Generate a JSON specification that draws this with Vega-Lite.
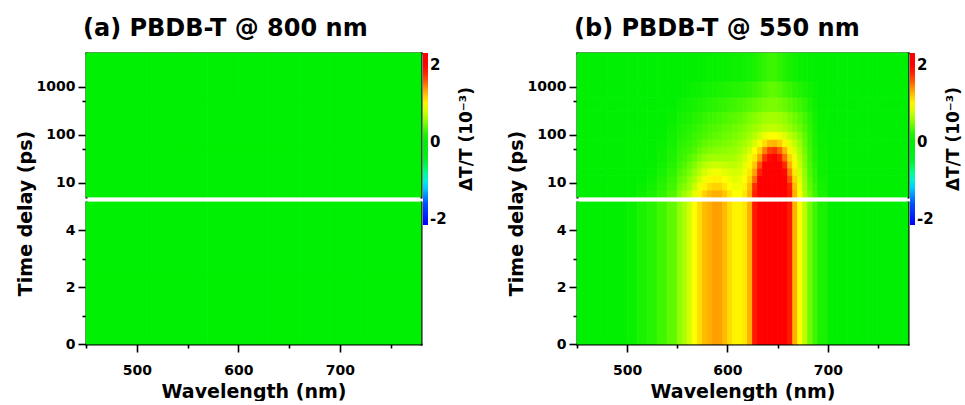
{
"$schema":"https://vega.github.io/schema/vega-lite/v6.json",
"background":"white",
"padding":{"left":15,"top":16,"right":0,"bottom":0},
"config":{
 "view":{"stroke":null},
 "font":"DejaVu Sans",
 "axis":{"grid":false,"domainColor":"black","domainWidth":2,"domainCap":"square","tickColor":"black","tickWidth":1.6,"labelFont":"DejaVu Sans","labelFontWeight":"bold","labelFontSize":14,"labelColor":"black","titleFont":"DejaVu Sans","titleFontWeight":"bold","titleFontSize":19,"titleColor":"black","zindex":1},
 "title":{"font":"DejaVu Sans","fontWeight":"bold","fontSize":24,"anchor":"start","frame":"group","color":"black","baseline":"alphabetic","offset":12,"dx":-3},
 "legend":{"labelFont":"DejaVu Sans","labelFontWeight":"bold","labelFontSize":15,"labelColor":"black","titleFont":"DejaVu Sans","titleFontWeight":"bold","titleFontSize":17,"titleColor":"black","gradientLength":172,"gradientThickness":5,"gradientStrokeWidth":0,"offset":1,"padding":0,"labelOffset":5}
},
"datasets":{
"aTop":[
{"w":450,"w2":480,"t":5,"t2":50,"v":0.03},{"w":480,"w2":510,"t":5,"t2":50,"v":0.04},{"w":510,"w2":540,"t":5,"t2":50,"v":0.03},{"w":540,"w2":570,"t":5,"t2":50,"v":0.04},{"w":570,"w2":600,"t":5,"t2":50,"v":0.05},{"w":600,"w2":630,"t":5,"t2":50,"v":0.04},{"w":630,"w2":660,"t":5,"t2":50,"v":0.05},{"w":660,"w2":690,"t":5,"t2":50,"v":0.04},{"w":690,"w2":720,"t":5,"t2":50,"v":0.03},{"w":720,"w2":750,"t":5,"t2":50,"v":0.03},{"w":750,"w2":780,"t":5,"t2":50,"v":0.03},
{"w":450,"w2":480,"t":50,"t2":500,"v":0.03},{"w":480,"w2":510,"t":50,"t2":500,"v":0.03},{"w":510,"w2":540,"t":50,"t2":500,"v":0.03},{"w":540,"w2":570,"t":50,"t2":500,"v":0.04},{"w":570,"w2":600,"t":50,"t2":500,"v":0.04},{"w":600,"w2":630,"t":50,"t2":500,"v":0.04},{"w":630,"w2":660,"t":50,"t2":500,"v":0.04},{"w":660,"w2":690,"t":50,"t2":500,"v":0.03},{"w":690,"w2":720,"t":50,"t2":500,"v":0.03},{"w":720,"w2":750,"t":50,"t2":500,"v":0.03},{"w":750,"w2":780,"t":50,"t2":500,"v":0.03},
{"w":450,"w2":480,"t":500,"t2":5000,"v":0.03},{"w":480,"w2":510,"t":500,"t2":5000,"v":0.03},{"w":510,"w2":540,"t":500,"t2":5000,"v":0.03},{"w":540,"w2":570,"t":500,"t2":5000,"v":0.03},{"w":570,"w2":600,"t":500,"t2":5000,"v":0.03},{"w":600,"w2":630,"t":500,"t2":5000,"v":0.03},{"w":630,"w2":660,"t":500,"t2":5000,"v":0.03},{"w":660,"w2":690,"t":500,"t2":5000,"v":0.03},{"w":690,"w2":720,"t":500,"t2":5000,"v":0.03},{"w":720,"w2":750,"t":500,"t2":5000,"v":0.03},{"w":750,"w2":780,"t":500,"t2":5000,"v":0.03}
],
"aBot":[
{"w":450,"w2":480,"t":0,"t2":2.5,"v":0.04},{"w":480,"w2":510,"t":0,"t2":2.5,"v":0.05},{"w":510,"w2":540,"t":0,"t2":2.5,"v":0.04},{"w":540,"w2":570,"t":0,"t2":2.5,"v":0.05},{"w":570,"w2":600,"t":0,"t2":2.5,"v":0.06},{"w":600,"w2":630,"t":0,"t2":2.5,"v":0.05},{"w":630,"w2":660,"t":0,"t2":2.5,"v":0.06},{"w":660,"w2":690,"t":0,"t2":2.5,"v":0.05},{"w":690,"w2":720,"t":0,"t2":2.5,"v":0.04},{"w":720,"w2":750,"t":0,"t2":2.5,"v":0.04},{"w":750,"w2":780,"t":0,"t2":2.5,"v":0.04},
{"w":450,"w2":480,"t":2.5,"t2":5,"v":0.04},{"w":480,"w2":510,"t":2.5,"t2":5,"v":0.04},{"w":510,"w2":540,"t":2.5,"t2":5,"v":0.04},{"w":540,"w2":570,"t":2.5,"t2":5,"v":0.05},{"w":570,"w2":600,"t":2.5,"t2":5,"v":0.05},{"w":600,"w2":630,"t":2.5,"t2":5,"v":0.05},{"w":630,"w2":660,"t":2.5,"t2":5,"v":0.05},{"w":660,"w2":690,"t":2.5,"t2":5,"v":0.04},{"w":690,"w2":720,"t":2.5,"t2":5,"v":0.04},{"w":720,"w2":750,"t":2.5,"t2":5,"v":0.04},{"w":750,"w2":780,"t":2.5,"t2":5,"v":0.04}
],
"bBot":[
{"w":450,"w2":460,"t":0,"t2":5,"v":0.05},{"w":460,"w2":470,"t":0,"t2":5,"v":0.05},{"w":470,"w2":480,"t":0,"t2":5,"v":0.06},{"w":480,"w2":490,"t":0,"t2":5,"v":0.08},{"w":490,"w2":500,"t":0,"t2":5,"v":0.1},{"w":500,"w2":510,"t":0,"t2":5,"v":0.13},{"w":510,"w2":520,"t":0,"t2":5,"v":0.18},{"w":520,"w2":530,"t":0,"t2":5,"v":0.22},{"w":530,"w2":540,"t":0,"t2":5,"v":0.3},{"w":540,"w2":550,"t":0,"t2":5,"v":0.4},
{"w":550,"w2":555,"t":0,"t2":5,"v":0.55},{"w":555,"w2":560,"t":0,"t2":5,"v":0.65},{"w":560,"w2":565,"t":0,"t2":5,"v":0.8},{"w":565,"w2":570,"t":0,"t2":5,"v":0.95},{"w":570,"w2":575,"t":0,"t2":5,"v":1.1},{"w":575,"w2":580,"t":0,"t2":5,"v":1.25},{"w":580,"w2":585,"t":0,"t2":5,"v":1.3},{"w":585,"w2":590,"t":0,"t2":5,"v":1.35},{"w":590,"w2":595,"t":0,"t2":5,"v":1.35},{"w":595,"w2":600,"t":0,"t2":5,"v":1.25},{"w":600,"w2":605,"t":0,"t2":5,"v":1.1},{"w":605,"w2":610,"t":0,"t2":5,"v":1.0},{"w":610,"w2":615,"t":0,"t2":5,"v":1.0},{"w":615,"w2":620,"t":0,"t2":5,"v":1.05},{"w":620,"w2":625,"t":0,"t2":5,"v":1.3},{"w":625,"w2":630,"t":0,"t2":5,"v":1.85},{"w":630,"w2":635,"t":0,"t2":5,"v":2.3},{"w":635,"w2":640,"t":0,"t2":5,"v":2.5},{"w":640,"w2":645,"t":0,"t2":5,"v":2.6},{"w":645,"w2":650,"t":0,"t2":5,"v":2.6},{"w":650,"w2":655,"t":0,"t2":5,"v":2.5},{"w":655,"w2":660,"t":0,"t2":5,"v":2.3},{"w":660,"w2":665,"t":0,"t2":5,"v":1.85},{"w":665,"w2":670,"t":0,"t2":5,"v":1.3},{"w":670,"w2":675,"t":0,"t2":5,"v":0.95},{"w":675,"w2":680,"t":0,"t2":5,"v":0.7},{"w":680,"w2":685,"t":0,"t2":5,"v":0.45},{"w":685,"w2":690,"t":0,"t2":5,"v":0.3},
{"w":690,"w2":700,"t":0,"t2":5,"v":0.18},{"w":700,"w2":710,"t":0,"t2":5,"v":0.1},{"w":710,"w2":720,"t":0,"t2":5,"v":0.08},{"w":720,"w2":730,"t":0,"t2":5,"v":0.06},{"w":730,"w2":740,"t":0,"t2":5,"v":0.05},{"w":740,"w2":750,"t":0,"t2":5,"v":0.05},{"w":750,"w2":760,"t":0,"t2":5,"v":0.05},{"w":760,"w2":770,"t":0,"t2":5,"v":0.05},{"w":770,"w2":780,"t":0,"t2":5,"v":0.05}
],
"bTop":[
{"w":450,"w2":460,"t":5,"t2":7,"v":0.05},{"w":460,"w2":470,"t":5,"t2":7,"v":0.05},{"w":470,"w2":480,"t":5,"t2":7,"v":0.05},{"w":480,"w2":490,"t":5,"t2":7,"v":0.07},{"w":490,"w2":500,"t":5,"t2":7,"v":0.08},{"w":500,"w2":510,"t":5,"t2":7,"v":0.1},{"w":510,"w2":520,"t":5,"t2":7,"v":0.14},{"w":520,"w2":530,"t":5,"t2":7,"v":0.18},{"w":530,"w2":540,"t":5,"t2":7,"v":0.25},{"w":540,"w2":550,"t":5,"t2":7,"v":0.35},
{"w":550,"w2":555,"t":5,"t2":7,"v":0.5},{"w":555,"w2":560,"t":5,"t2":7,"v":0.6},{"w":560,"w2":565,"t":5,"t2":7,"v":0.7},{"w":565,"w2":570,"t":5,"t2":7,"v":0.85},{"w":570,"w2":575,"t":5,"t2":7,"v":1.0},{"w":575,"w2":580,"t":5,"t2":7,"v":1.15},{"w":580,"w2":585,"t":5,"t2":7,"v":1.25},{"w":585,"w2":590,"t":5,"t2":7,"v":1.3},{"w":590,"w2":595,"t":5,"t2":7,"v":1.3},{"w":595,"w2":600,"t":5,"t2":7,"v":1.2},{"w":600,"w2":605,"t":5,"t2":7,"v":1.05},{"w":605,"w2":610,"t":5,"t2":7,"v":0.95},{"w":610,"w2":615,"t":5,"t2":7,"v":0.95},{"w":615,"w2":620,"t":5,"t2":7,"v":1.05},{"w":620,"w2":625,"t":5,"t2":7,"v":1.3},{"w":625,"w2":630,"t":5,"t2":7,"v":1.8},{"w":630,"w2":635,"t":5,"t2":7,"v":2.3},{"w":635,"w2":640,"t":5,"t2":7,"v":2.5},{"w":640,"w2":645,"t":5,"t2":7,"v":2.6},{"w":645,"w2":650,"t":5,"t2":7,"v":2.6},{"w":650,"w2":655,"t":5,"t2":7,"v":2.5},{"w":655,"w2":660,"t":5,"t2":7,"v":2.3},{"w":660,"w2":665,"t":5,"t2":7,"v":1.85},{"w":665,"w2":670,"t":5,"t2":7,"v":1.3},{"w":670,"w2":675,"t":5,"t2":7,"v":0.95},{"w":675,"w2":680,"t":5,"t2":7,"v":0.65},{"w":680,"w2":685,"t":5,"t2":7,"v":0.45},{"w":685,"w2":690,"t":5,"t2":7,"v":0.3},
{"w":690,"w2":700,"t":5,"t2":7,"v":0.18},{"w":700,"w2":710,"t":5,"t2":7,"v":0.1},{"w":710,"w2":720,"t":5,"t2":7,"v":0.07},{"w":720,"w2":730,"t":5,"t2":7,"v":0.06},{"w":730,"w2":740,"t":5,"t2":7,"v":0.05},{"w":740,"w2":750,"t":5,"t2":7,"v":0.05},{"w":750,"w2":760,"t":5,"t2":7,"v":0.05},{"w":760,"w2":770,"t":5,"t2":7,"v":0.05},{"w":770,"w2":780,"t":5,"t2":7,"v":0.05},

{"w":450,"w2":460,"t":7,"t2":10,"v":0.05},{"w":460,"w2":470,"t":7,"t2":10,"v":0.05},{"w":470,"w2":480,"t":7,"t2":10,"v":0.05},{"w":480,"w2":490,"t":7,"t2":10,"v":0.06},{"w":490,"w2":500,"t":7,"t2":10,"v":0.07},{"w":500,"w2":510,"t":7,"t2":10,"v":0.09},{"w":510,"w2":520,"t":7,"t2":10,"v":0.12},{"w":520,"w2":530,"t":7,"t2":10,"v":0.16},{"w":530,"w2":540,"t":7,"t2":10,"v":0.22},{"w":540,"w2":550,"t":7,"t2":10,"v":0.3},
{"w":550,"w2":555,"t":7,"t2":10,"v":0.45},{"w":555,"w2":560,"t":7,"t2":10,"v":0.5},{"w":560,"w2":565,"t":7,"t2":10,"v":0.6},{"w":565,"w2":570,"t":7,"t2":10,"v":0.75},{"w":570,"w2":575,"t":7,"t2":10,"v":0.9},{"w":575,"w2":580,"t":7,"t2":10,"v":1.0},{"w":580,"w2":585,"t":7,"t2":10,"v":1.1},{"w":585,"w2":590,"t":7,"t2":10,"v":1.15},{"w":590,"w2":595,"t":7,"t2":10,"v":1.15},{"w":595,"w2":600,"t":7,"t2":10,"v":1.05},{"w":600,"w2":605,"t":7,"t2":10,"v":0.95},{"w":605,"w2":610,"t":7,"t2":10,"v":0.9},{"w":610,"w2":615,"t":7,"t2":10,"v":0.9},{"w":615,"w2":620,"t":7,"t2":10,"v":1.0},{"w":620,"w2":625,"t":7,"t2":10,"v":1.25},{"w":625,"w2":630,"t":7,"t2":10,"v":1.7},{"w":630,"w2":635,"t":7,"t2":10,"v":2.2},{"w":635,"w2":640,"t":7,"t2":10,"v":2.45},{"w":640,"w2":645,"t":7,"t2":10,"v":2.55},{"w":645,"w2":650,"t":7,"t2":10,"v":2.55},{"w":650,"w2":655,"t":7,"t2":10,"v":2.45},{"w":655,"w2":660,"t":7,"t2":10,"v":2.25},{"w":660,"w2":665,"t":7,"t2":10,"v":1.8},{"w":665,"w2":670,"t":7,"t2":10,"v":1.25},{"w":670,"w2":675,"t":7,"t2":10,"v":0.9},{"w":675,"w2":680,"t":7,"t2":10,"v":0.6},{"w":680,"w2":685,"t":7,"t2":10,"v":0.4},{"w":685,"w2":690,"t":7,"t2":10,"v":0.28},
{"w":690,"w2":700,"t":7,"t2":10,"v":0.16},{"w":700,"w2":710,"t":7,"t2":10,"v":0.1},{"w":710,"w2":720,"t":7,"t2":10,"v":0.07},{"w":720,"w2":730,"t":7,"t2":10,"v":0.05},{"w":730,"w2":740,"t":7,"t2":10,"v":0.05},{"w":740,"w2":750,"t":7,"t2":10,"v":0.05},{"w":750,"w2":760,"t":7,"t2":10,"v":0.05},{"w":760,"w2":770,"t":7,"t2":10,"v":0.05},{"w":770,"w2":780,"t":7,"t2":10,"v":0.05},

{"w":450,"w2":460,"t":10,"t2":14,"v":0.05},{"w":460,"w2":470,"t":10,"t2":14,"v":0.05},{"w":470,"w2":480,"t":10,"t2":14,"v":0.05},{"w":480,"w2":490,"t":10,"t2":14,"v":0.06},{"w":490,"w2":500,"t":10,"t2":14,"v":0.07},{"w":500,"w2":510,"t":10,"t2":14,"v":0.08},{"w":510,"w2":520,"t":10,"t2":14,"v":0.1},{"w":520,"w2":530,"t":10,"t2":14,"v":0.14},{"w":530,"w2":540,"t":10,"t2":14,"v":0.2},{"w":540,"w2":550,"t":10,"t2":14,"v":0.27},
{"w":550,"w2":555,"t":10,"t2":14,"v":0.4},{"w":555,"w2":560,"t":10,"t2":14,"v":0.45},{"w":560,"w2":565,"t":10,"t2":14,"v":0.55},{"w":565,"w2":570,"t":10,"t2":14,"v":0.65},{"w":570,"w2":575,"t":10,"t2":14,"v":0.8},{"w":575,"w2":580,"t":10,"t2":14,"v":0.9},{"w":580,"w2":585,"t":10,"t2":14,"v":0.98},{"w":585,"w2":590,"t":10,"t2":14,"v":1.0},{"w":590,"w2":595,"t":10,"t2":14,"v":1.0},{"w":595,"w2":600,"t":10,"t2":14,"v":0.95},{"w":600,"w2":605,"t":10,"t2":14,"v":0.9},{"w":605,"w2":610,"t":10,"t2":14,"v":0.85},{"w":610,"w2":615,"t":10,"t2":14,"v":0.88},{"w":615,"w2":620,"t":10,"t2":14,"v":0.95},{"w":620,"w2":625,"t":10,"t2":14,"v":1.15},{"w":625,"w2":630,"t":10,"t2":14,"v":1.5},{"w":630,"w2":635,"t":10,"t2":14,"v":2.0},{"w":635,"w2":640,"t":10,"t2":14,"v":2.35},{"w":640,"w2":645,"t":10,"t2":14,"v":2.5},{"w":645,"w2":650,"t":10,"t2":14,"v":2.5},{"w":650,"w2":655,"t":10,"t2":14,"v":2.4},{"w":655,"w2":660,"t":10,"t2":14,"v":2.1},{"w":660,"w2":665,"t":10,"t2":14,"v":1.6},{"w":665,"w2":670,"t":10,"t2":14,"v":1.15},{"w":670,"w2":675,"t":10,"t2":14,"v":0.85},{"w":675,"w2":680,"t":10,"t2":14,"v":0.58},{"w":680,"w2":685,"t":10,"t2":14,"v":0.38},{"w":685,"w2":690,"t":10,"t2":14,"v":0.25},
{"w":690,"w2":700,"t":10,"t2":14,"v":0.15},{"w":700,"w2":710,"t":10,"t2":14,"v":0.09},{"w":710,"w2":720,"t":10,"t2":14,"v":0.07},{"w":720,"w2":730,"t":10,"t2":14,"v":0.05},{"w":730,"w2":740,"t":10,"t2":14,"v":0.05},{"w":740,"w2":750,"t":10,"t2":14,"v":0.05},{"w":750,"w2":760,"t":10,"t2":14,"v":0.05},{"w":760,"w2":770,"t":10,"t2":14,"v":0.05},{"w":770,"w2":780,"t":10,"t2":14,"v":0.05},

{"w":450,"w2":460,"t":14,"t2":20,"v":0.04},{"w":460,"w2":470,"t":14,"t2":20,"v":0.04},{"w":470,"w2":480,"t":14,"t2":20,"v":0.05},{"w":480,"w2":490,"t":14,"t2":20,"v":0.05},{"w":490,"w2":500,"t":14,"t2":20,"v":0.06},{"w":500,"w2":510,"t":14,"t2":20,"v":0.07},{"w":510,"w2":520,"t":14,"t2":20,"v":0.09},{"w":520,"w2":530,"t":14,"t2":20,"v":0.12},{"w":530,"w2":540,"t":14,"t2":20,"v":0.17},{"w":540,"w2":550,"t":14,"t2":20,"v":0.24},
{"w":550,"w2":555,"t":14,"t2":20,"v":0.35},{"w":555,"w2":560,"t":14,"t2":20,"v":0.4},{"w":560,"w2":565,"t":14,"t2":20,"v":0.48},{"w":565,"w2":570,"t":14,"t2":20,"v":0.58},{"w":570,"w2":575,"t":14,"t2":20,"v":0.7},{"w":575,"w2":580,"t":14,"t2":20,"v":0.8},{"w":580,"w2":585,"t":14,"t2":20,"v":0.88},{"w":585,"w2":590,"t":14,"t2":20,"v":0.9},{"w":590,"w2":595,"t":14,"t2":20,"v":0.9},{"w":595,"w2":600,"t":14,"t2":20,"v":0.85},{"w":600,"w2":605,"t":14,"t2":20,"v":0.82},{"w":605,"w2":610,"t":14,"t2":20,"v":0.8},{"w":610,"w2":615,"t":14,"t2":20,"v":0.82},{"w":615,"w2":620,"t":14,"t2":20,"v":0.9},{"w":620,"w2":625,"t":14,"t2":20,"v":1.05},{"w":625,"w2":630,"t":14,"t2":20,"v":1.35},{"w":630,"w2":635,"t":14,"t2":20,"v":1.8},{"w":635,"w2":640,"t":14,"t2":20,"v":2.2},{"w":640,"w2":645,"t":14,"t2":20,"v":2.4},{"w":645,"w2":650,"t":14,"t2":20,"v":2.4},{"w":650,"w2":655,"t":14,"t2":20,"v":2.3},{"w":655,"w2":660,"t":14,"t2":20,"v":1.95},{"w":660,"w2":665,"t":14,"t2":20,"v":1.45},{"w":665,"w2":670,"t":14,"t2":20,"v":1.05},{"w":670,"w2":675,"t":14,"t2":20,"v":0.8},{"w":675,"w2":680,"t":14,"t2":20,"v":0.55},{"w":680,"w2":685,"t":14,"t2":20,"v":0.35},{"w":685,"w2":690,"t":14,"t2":20,"v":0.24},
{"w":690,"w2":700,"t":14,"t2":20,"v":0.14},{"w":700,"w2":710,"t":14,"t2":20,"v":0.09},{"w":710,"w2":720,"t":14,"t2":20,"v":0.06},{"w":720,"w2":730,"t":14,"t2":20,"v":0.05},{"w":730,"w2":740,"t":14,"t2":20,"v":0.05},{"w":740,"w2":750,"t":14,"t2":20,"v":0.05},{"w":750,"w2":760,"t":14,"t2":20,"v":0.05},{"w":760,"w2":770,"t":14,"t2":20,"v":0.05},{"w":770,"w2":780,"t":14,"t2":20,"v":0.05},

{"w":450,"w2":460,"t":20,"t2":28,"v":0.04},{"w":460,"w2":470,"t":20,"t2":28,"v":0.04},{"w":470,"w2":480,"t":20,"t2":28,"v":0.05},{"w":480,"w2":490,"t":20,"t2":28,"v":0.05},{"w":490,"w2":500,"t":20,"t2":28,"v":0.06},{"w":500,"w2":510,"t":20,"t2":28,"v":0.07},{"w":510,"w2":520,"t":20,"t2":28,"v":0.08},{"w":520,"w2":530,"t":20,"t2":28,"v":0.11},{"w":530,"w2":540,"t":20,"t2":28,"v":0.15},{"w":540,"w2":550,"t":20,"t2":28,"v":0.21},
{"w":550,"w2":555,"t":20,"t2":28,"v":0.3},{"w":555,"w2":560,"t":20,"t2":28,"v":0.35},{"w":560,"w2":565,"t":20,"t2":28,"v":0.42},{"w":565,"w2":570,"t":20,"t2":28,"v":0.5},{"w":570,"w2":575,"t":20,"t2":28,"v":0.6},{"w":575,"w2":580,"t":20,"t2":28,"v":0.68},{"w":580,"w2":585,"t":20,"t2":28,"v":0.74},{"w":585,"w2":590,"t":20,"t2":28,"v":0.76},{"w":590,"w2":595,"t":20,"t2":28,"v":0.76},{"w":595,"w2":600,"t":20,"t2":28,"v":0.74},{"w":600,"w2":605,"t":20,"t2":28,"v":0.72},{"w":605,"w2":610,"t":20,"t2":28,"v":0.72},{"w":610,"w2":615,"t":20,"t2":28,"v":0.76},{"w":615,"w2":620,"t":20,"t2":28,"v":0.85},{"w":620,"w2":625,"t":20,"t2":28,"v":0.98},{"w":625,"w2":630,"t":20,"t2":28,"v":1.2},{"w":630,"w2":635,"t":20,"t2":28,"v":1.6},{"w":635,"w2":640,"t":20,"t2":28,"v":2.0},{"w":640,"w2":645,"t":20,"t2":28,"v":2.2},{"w":645,"w2":650,"t":20,"t2":28,"v":2.25},{"w":650,"w2":655,"t":20,"t2":28,"v":2.1},{"w":655,"w2":660,"t":20,"t2":28,"v":1.75},{"w":660,"w2":665,"t":20,"t2":28,"v":1.3},{"w":665,"w2":670,"t":20,"t2":28,"v":0.98},{"w":670,"w2":675,"t":20,"t2":28,"v":0.75},{"w":675,"w2":680,"t":20,"t2":28,"v":0.52},{"w":680,"w2":685,"t":20,"t2":28,"v":0.33},{"w":685,"w2":690,"t":20,"t2":28,"v":0.22},
{"w":690,"w2":700,"t":20,"t2":28,"v":0.14},{"w":700,"w2":710,"t":20,"t2":28,"v":0.09},{"w":710,"w2":720,"t":20,"t2":28,"v":0.06},{"w":720,"w2":730,"t":20,"t2":28,"v":0.05},{"w":730,"w2":740,"t":20,"t2":28,"v":0.05},{"w":740,"w2":750,"t":20,"t2":28,"v":0.05},{"w":750,"w2":760,"t":20,"t2":28,"v":0.05},{"w":760,"w2":770,"t":20,"t2":28,"v":0.05},{"w":770,"w2":780,"t":20,"t2":28,"v":0.05},

{"w":450,"w2":460,"t":28,"t2":40,"v":0.04},{"w":460,"w2":470,"t":28,"t2":40,"v":0.04},{"w":470,"w2":480,"t":28,"t2":40,"v":0.04},{"w":480,"w2":490,"t":28,"t2":40,"v":0.05},{"w":490,"w2":500,"t":28,"t2":40,"v":0.05},{"w":500,"w2":510,"t":28,"t2":40,"v":0.06},{"w":510,"w2":520,"t":28,"t2":40,"v":0.08},{"w":520,"w2":530,"t":28,"t2":40,"v":0.1},{"w":530,"w2":540,"t":28,"t2":40,"v":0.14},{"w":540,"w2":550,"t":28,"t2":40,"v":0.19},
{"w":550,"w2":555,"t":28,"t2":40,"v":0.27},{"w":555,"w2":560,"t":28,"t2":40,"v":0.3},{"w":560,"w2":565,"t":28,"t2":40,"v":0.36},{"w":565,"w2":570,"t":28,"t2":40,"v":0.42},{"w":570,"w2":575,"t":28,"t2":40,"v":0.5},{"w":575,"w2":580,"t":28,"t2":40,"v":0.56},{"w":580,"w2":585,"t":28,"t2":40,"v":0.6},{"w":585,"w2":590,"t":28,"t2":40,"v":0.62},{"w":590,"w2":595,"t":28,"t2":40,"v":0.62},{"w":595,"w2":600,"t":28,"t2":40,"v":0.62},{"w":600,"w2":605,"t":28,"t2":40,"v":0.62},{"w":605,"w2":610,"t":28,"t2":40,"v":0.64},{"w":610,"w2":615,"t":28,"t2":40,"v":0.7},{"w":615,"w2":620,"t":28,"t2":40,"v":0.78},{"w":620,"w2":625,"t":28,"t2":40,"v":0.9},{"w":625,"w2":630,"t":28,"t2":40,"v":1.05},{"w":630,"w2":635,"t":28,"t2":40,"v":1.35},{"w":635,"w2":640,"t":28,"t2":40,"v":1.7},{"w":640,"w2":645,"t":28,"t2":40,"v":1.95},{"w":645,"w2":650,"t":28,"t2":40,"v":2.0},{"w":650,"w2":655,"t":28,"t2":40,"v":1.85},{"w":655,"w2":660,"t":28,"t2":40,"v":1.5},{"w":660,"w2":665,"t":28,"t2":40,"v":1.15},{"w":665,"w2":670,"t":28,"t2":40,"v":0.9},{"w":670,"w2":675,"t":28,"t2":40,"v":0.7},{"w":675,"w2":680,"t":28,"t2":40,"v":0.5},{"w":680,"w2":685,"t":28,"t2":40,"v":0.32},{"w":685,"w2":690,"t":28,"t2":40,"v":0.2},
{"w":690,"w2":700,"t":28,"t2":40,"v":0.13},{"w":700,"w2":710,"t":28,"t2":40,"v":0.08},{"w":710,"w2":720,"t":28,"t2":40,"v":0.06},{"w":720,"w2":730,"t":28,"t2":40,"v":0.05},{"w":730,"w2":740,"t":28,"t2":40,"v":0.05},{"w":740,"w2":750,"t":28,"t2":40,"v":0.05},{"w":750,"w2":760,"t":28,"t2":40,"v":0.05},{"w":760,"w2":770,"t":28,"t2":40,"v":0.05},{"w":770,"w2":780,"t":28,"t2":40,"v":0.05},

{"w":450,"w2":460,"t":40,"t2":56,"v":0.04},{"w":460,"w2":470,"t":40,"t2":56,"v":0.04},{"w":470,"w2":480,"t":40,"t2":56,"v":0.04},{"w":480,"w2":490,"t":40,"t2":56,"v":0.05},{"w":490,"w2":500,"t":40,"t2":56,"v":0.05},{"w":500,"w2":510,"t":40,"t2":56,"v":0.06},{"w":510,"w2":520,"t":40,"t2":56,"v":0.07},{"w":520,"w2":530,"t":40,"t2":56,"v":0.09},{"w":530,"w2":540,"t":40,"t2":56,"v":0.13},{"w":540,"w2":550,"t":40,"t2":56,"v":0.18},
{"w":550,"w2":555,"t":40,"t2":56,"v":0.25},{"w":555,"w2":560,"t":40,"t2":56,"v":0.27},{"w":560,"w2":565,"t":40,"t2":56,"v":0.3},{"w":565,"w2":570,"t":40,"t2":56,"v":0.35},{"w":570,"w2":575,"t":40,"t2":56,"v":0.42},{"w":575,"w2":580,"t":40,"t2":56,"v":0.47},{"w":580,"w2":585,"t":40,"t2":56,"v":0.5},{"w":585,"w2":590,"t":40,"t2":56,"v":0.52},{"w":590,"w2":595,"t":40,"t2":56,"v":0.53},{"w":595,"w2":600,"t":40,"t2":56,"v":0.54},{"w":600,"w2":605,"t":40,"t2":56,"v":0.56},{"w":605,"w2":610,"t":40,"t2":56,"v":0.58},{"w":610,"w2":615,"t":40,"t2":56,"v":0.63},{"w":615,"w2":620,"t":40,"t2":56,"v":0.7},{"w":620,"w2":625,"t":40,"t2":56,"v":0.8},{"w":625,"w2":630,"t":40,"t2":56,"v":0.95},{"w":630,"w2":635,"t":40,"t2":56,"v":1.15},{"w":635,"w2":640,"t":40,"t2":56,"v":1.45},{"w":640,"w2":645,"t":40,"t2":56,"v":1.65},{"w":645,"w2":650,"t":40,"t2":56,"v":1.7},{"w":650,"w2":655,"t":40,"t2":56,"v":1.55},{"w":655,"w2":660,"t":40,"t2":56,"v":1.3},{"w":660,"w2":665,"t":40,"t2":56,"v":1.0},{"w":665,"w2":670,"t":40,"t2":56,"v":0.82},{"w":670,"w2":675,"t":40,"t2":56,"v":0.65},{"w":675,"w2":680,"t":40,"t2":56,"v":0.46},{"w":680,"w2":685,"t":40,"t2":56,"v":0.3},{"w":685,"w2":690,"t":40,"t2":56,"v":0.2},
{"w":690,"w2":700,"t":40,"t2":56,"v":0.13},{"w":700,"w2":710,"t":40,"t2":56,"v":0.08},{"w":710,"w2":720,"t":40,"t2":56,"v":0.06},{"w":720,"w2":730,"t":40,"t2":56,"v":0.05},{"w":730,"w2":740,"t":40,"t2":56,"v":0.05},{"w":740,"w2":750,"t":40,"t2":56,"v":0.05},{"w":750,"w2":760,"t":40,"t2":56,"v":0.05},{"w":760,"w2":770,"t":40,"t2":56,"v":0.05},{"w":770,"w2":780,"t":40,"t2":56,"v":0.05},

{"w":450,"w2":460,"t":56,"t2":80,"v":0.04},{"w":460,"w2":470,"t":56,"t2":80,"v":0.04},{"w":470,"w2":480,"t":56,"t2":80,"v":0.04},{"w":480,"w2":490,"t":56,"t2":80,"v":0.04},{"w":490,"w2":500,"t":56,"t2":80,"v":0.05},{"w":500,"w2":510,"t":56,"t2":80,"v":0.06},{"w":510,"w2":520,"t":56,"t2":80,"v":0.07},{"w":520,"w2":530,"t":56,"t2":80,"v":0.09},{"w":530,"w2":540,"t":56,"t2":80,"v":0.12},{"w":540,"w2":550,"t":56,"t2":80,"v":0.16},
{"w":550,"w2":555,"t":56,"t2":80,"v":0.22},{"w":555,"w2":560,"t":56,"t2":80,"v":0.24},{"w":560,"w2":565,"t":56,"t2":80,"v":0.27},{"w":565,"w2":570,"t":56,"t2":80,"v":0.3},{"w":570,"w2":575,"t":56,"t2":80,"v":0.35},{"w":575,"w2":580,"t":56,"t2":80,"v":0.4},{"w":580,"w2":585,"t":56,"t2":80,"v":0.43},{"w":585,"w2":590,"t":56,"t2":80,"v":0.45},{"w":590,"w2":595,"t":56,"t2":80,"v":0.46},{"w":595,"w2":600,"t":56,"t2":80,"v":0.48},{"w":600,"w2":605,"t":56,"t2":80,"v":0.5},{"w":605,"w2":610,"t":56,"t2":80,"v":0.53},{"w":610,"w2":615,"t":56,"t2":80,"v":0.57},{"w":615,"w2":620,"t":56,"t2":80,"v":0.62},{"w":620,"w2":625,"t":56,"t2":80,"v":0.7},{"w":625,"w2":630,"t":56,"t2":80,"v":0.8},{"w":630,"w2":635,"t":56,"t2":80,"v":0.93},{"w":635,"w2":640,"t":56,"t2":80,"v":1.1},{"w":640,"w2":645,"t":56,"t2":80,"v":1.25},{"w":645,"w2":650,"t":56,"t2":80,"v":1.28},{"w":650,"w2":655,"t":56,"t2":80,"v":1.18},{"w":655,"w2":660,"t":56,"t2":80,"v":1.0},{"w":660,"w2":665,"t":56,"t2":80,"v":0.85},{"w":665,"w2":670,"t":56,"t2":80,"v":0.72},{"w":670,"w2":675,"t":56,"t2":80,"v":0.58},{"w":675,"w2":680,"t":56,"t2":80,"v":0.42},{"w":680,"w2":685,"t":56,"t2":80,"v":0.28},{"w":685,"w2":690,"t":56,"t2":80,"v":0.18},
{"w":690,"w2":700,"t":56,"t2":80,"v":0.12},{"w":700,"w2":710,"t":56,"t2":80,"v":0.08},{"w":710,"w2":720,"t":56,"t2":80,"v":0.06},{"w":720,"w2":730,"t":56,"t2":80,"v":0.05},{"w":730,"w2":740,"t":56,"t2":80,"v":0.05},{"w":740,"w2":750,"t":56,"t2":80,"v":0.05},{"w":750,"w2":760,"t":56,"t2":80,"v":0.05},{"w":760,"w2":770,"t":56,"t2":80,"v":0.05},{"w":770,"w2":780,"t":56,"t2":80,"v":0.05},

{"w":450,"w2":460,"t":80,"t2":115,"v":0.04},{"w":460,"w2":470,"t":80,"t2":115,"v":0.04},{"w":470,"w2":480,"t":80,"t2":115,"v":0.04},{"w":480,"w2":490,"t":80,"t2":115,"v":0.04},{"w":490,"w2":500,"t":80,"t2":115,"v":0.05},{"w":500,"w2":510,"t":80,"t2":115,"v":0.05},{"w":510,"w2":520,"t":80,"t2":115,"v":0.06},{"w":520,"w2":530,"t":80,"t2":115,"v":0.08},{"w":530,"w2":540,"t":80,"t2":115,"v":0.11},{"w":540,"w2":550,"t":80,"t2":115,"v":0.15},
{"w":550,"w2":555,"t":80,"t2":115,"v":0.2},{"w":555,"w2":560,"t":80,"t2":115,"v":0.22},{"w":560,"w2":565,"t":80,"t2":115,"v":0.24},{"w":565,"w2":570,"t":80,"t2":115,"v":0.27},{"w":570,"w2":575,"t":80,"t2":115,"v":0.3},{"w":575,"w2":580,"t":80,"t2":115,"v":0.34},{"w":580,"w2":585,"t":80,"t2":115,"v":0.37},{"w":585,"w2":590,"t":80,"t2":115,"v":0.39},{"w":590,"w2":595,"t":80,"t2":115,"v":0.41},{"w":595,"w2":600,"t":80,"t2":115,"v":0.43},{"w":600,"w2":605,"t":80,"t2":115,"v":0.45},{"w":605,"w2":610,"t":80,"t2":115,"v":0.48},{"w":610,"w2":615,"t":80,"t2":115,"v":0.51},{"w":615,"w2":620,"t":80,"t2":115,"v":0.55},{"w":620,"w2":625,"t":80,"t2":115,"v":0.61},{"w":625,"w2":630,"t":80,"t2":115,"v":0.69},{"w":630,"w2":635,"t":80,"t2":115,"v":0.78},{"w":635,"w2":640,"t":80,"t2":115,"v":0.88},{"w":640,"w2":645,"t":80,"t2":115,"v":0.94},{"w":645,"w2":650,"t":80,"t2":115,"v":0.95},{"w":650,"w2":655,"t":80,"t2":115,"v":0.9},{"w":655,"w2":660,"t":80,"t2":115,"v":0.82},{"w":660,"w2":665,"t":80,"t2":115,"v":0.72},{"w":665,"w2":670,"t":80,"t2":115,"v":0.62},{"w":670,"w2":675,"t":80,"t2":115,"v":0.51},{"w":675,"w2":680,"t":80,"t2":115,"v":0.39},{"w":680,"w2":685,"t":80,"t2":115,"v":0.27},{"w":685,"w2":690,"t":80,"t2":115,"v":0.18},
{"w":690,"w2":700,"t":80,"t2":115,"v":0.12},{"w":700,"w2":710,"t":80,"t2":115,"v":0.08},{"w":710,"w2":720,"t":80,"t2":115,"v":0.05},{"w":720,"w2":730,"t":80,"t2":115,"v":0.05},{"w":730,"w2":740,"t":80,"t2":115,"v":0.05},{"w":740,"w2":750,"t":80,"t2":115,"v":0.05},{"w":750,"w2":760,"t":80,"t2":115,"v":0.05},{"w":760,"w2":770,"t":80,"t2":115,"v":0.05},{"w":770,"w2":780,"t":80,"t2":115,"v":0.05},

{"w":450,"w2":460,"t":115,"t2":170,"v":0.04},{"w":460,"w2":470,"t":115,"t2":170,"v":0.04},{"w":470,"w2":480,"t":115,"t2":170,"v":0.04},{"w":480,"w2":490,"t":115,"t2":170,"v":0.04},{"w":490,"w2":500,"t":115,"t2":170,"v":0.05},{"w":500,"w2":510,"t":115,"t2":170,"v":0.05},{"w":510,"w2":520,"t":115,"t2":170,"v":0.06},{"w":520,"w2":530,"t":115,"t2":170,"v":0.08},{"w":530,"w2":540,"t":115,"t2":170,"v":0.1},{"w":540,"w2":550,"t":115,"t2":170,"v":0.14},
{"w":550,"w2":555,"t":115,"t2":170,"v":0.18},{"w":555,"w2":560,"t":115,"t2":170,"v":0.2},{"w":560,"w2":565,"t":115,"t2":170,"v":0.22},{"w":565,"w2":570,"t":115,"t2":170,"v":0.24},{"w":570,"w2":575,"t":115,"t2":170,"v":0.27},{"w":575,"w2":580,"t":115,"t2":170,"v":0.3},{"w":580,"w2":585,"t":115,"t2":170,"v":0.33},{"w":585,"w2":590,"t":115,"t2":170,"v":0.35},{"w":590,"w2":595,"t":115,"t2":170,"v":0.37},{"w":595,"w2":600,"t":115,"t2":170,"v":0.39},{"w":600,"w2":605,"t":115,"t2":170,"v":0.41},{"w":605,"w2":610,"t":115,"t2":170,"v":0.44},{"w":610,"w2":615,"t":115,"t2":170,"v":0.47},{"w":615,"w2":620,"t":115,"t2":170,"v":0.5},{"w":620,"w2":625,"t":115,"t2":170,"v":0.54},{"w":625,"w2":630,"t":115,"t2":170,"v":0.59},{"w":630,"w2":635,"t":115,"t2":170,"v":0.64},{"w":635,"w2":640,"t":115,"t2":170,"v":0.69},{"w":640,"w2":645,"t":115,"t2":170,"v":0.72},{"w":645,"w2":650,"t":115,"t2":170,"v":0.72},{"w":650,"w2":655,"t":115,"t2":170,"v":0.69},{"w":655,"w2":660,"t":115,"t2":170,"v":0.64},{"w":660,"w2":665,"t":115,"t2":170,"v":0.57},{"w":665,"w2":670,"t":115,"t2":170,"v":0.5},{"w":670,"w2":675,"t":115,"t2":170,"v":0.43},{"w":675,"w2":680,"t":115,"t2":170,"v":0.34},{"w":680,"w2":685,"t":115,"t2":170,"v":0.25},{"w":685,"w2":690,"t":115,"t2":170,"v":0.17},
{"w":690,"w2":700,"t":115,"t2":170,"v":0.11},{"w":700,"w2":710,"t":115,"t2":170,"v":0.07},{"w":710,"w2":720,"t":115,"t2":170,"v":0.05},{"w":720,"w2":730,"t":115,"t2":170,"v":0.05},{"w":730,"w2":740,"t":115,"t2":170,"v":0.05},{"w":740,"w2":750,"t":115,"t2":170,"v":0.05},{"w":750,"w2":760,"t":115,"t2":170,"v":0.05},{"w":760,"w2":770,"t":115,"t2":170,"v":0.05},{"w":770,"w2":780,"t":115,"t2":170,"v":0.05},

{"w":450,"w2":460,"t":170,"t2":300,"v":0.04},{"w":460,"w2":470,"t":170,"t2":300,"v":0.04},{"w":470,"w2":480,"t":170,"t2":300,"v":0.04},{"w":480,"w2":490,"t":170,"t2":300,"v":0.04},{"w":490,"w2":500,"t":170,"t2":300,"v":0.04},{"w":500,"w2":510,"t":170,"t2":300,"v":0.05},{"w":510,"w2":520,"t":170,"t2":300,"v":0.06},{"w":520,"w2":530,"t":170,"t2":300,"v":0.07},{"w":530,"w2":540,"t":170,"t2":300,"v":0.09},{"w":540,"w2":550,"t":170,"t2":300,"v":0.12},
{"w":550,"w2":555,"t":170,"t2":300,"v":0.16},{"w":555,"w2":560,"t":170,"t2":300,"v":0.17},{"w":560,"w2":565,"t":170,"t2":300,"v":0.19},{"w":565,"w2":570,"t":170,"t2":300,"v":0.21},{"w":570,"w2":575,"t":170,"t2":300,"v":0.23},{"w":575,"w2":580,"t":170,"t2":300,"v":0.26},{"w":580,"w2":585,"t":170,"t2":300,"v":0.28},{"w":585,"w2":590,"t":170,"t2":300,"v":0.3},{"w":590,"w2":595,"t":170,"t2":300,"v":0.32},{"w":595,"w2":600,"t":170,"t2":300,"v":0.34},{"w":600,"w2":605,"t":170,"t2":300,"v":0.36},{"w":605,"w2":610,"t":170,"t2":300,"v":0.38},{"w":610,"w2":615,"t":170,"t2":300,"v":0.41},{"w":615,"w2":620,"t":170,"t2":300,"v":0.44},{"w":620,"w2":625,"t":170,"t2":300,"v":0.48},{"w":625,"w2":630,"t":170,"t2":300,"v":0.52},{"w":630,"w2":635,"t":170,"t2":300,"v":0.56},{"w":635,"w2":640,"t":170,"t2":300,"v":0.6},{"w":640,"w2":645,"t":170,"t2":300,"v":0.62},{"w":645,"w2":650,"t":170,"t2":300,"v":0.62},{"w":650,"w2":655,"t":170,"t2":300,"v":0.6},{"w":655,"w2":660,"t":170,"t2":300,"v":0.56},{"w":660,"w2":665,"t":170,"t2":300,"v":0.5},{"w":665,"w2":670,"t":170,"t2":300,"v":0.44},{"w":670,"w2":675,"t":170,"t2":300,"v":0.38},{"w":675,"w2":680,"t":170,"t2":300,"v":0.31},{"w":680,"w2":685,"t":170,"t2":300,"v":0.23},{"w":685,"w2":690,"t":170,"t2":300,"v":0.16},
{"w":690,"w2":700,"t":170,"t2":300,"v":0.11},{"w":700,"w2":710,"t":170,"t2":300,"v":0.07},{"w":710,"w2":720,"t":170,"t2":300,"v":0.05},{"w":720,"w2":730,"t":170,"t2":300,"v":0.05},{"w":730,"w2":740,"t":170,"t2":300,"v":0.05},{"w":740,"w2":750,"t":170,"t2":300,"v":0.05},{"w":750,"w2":760,"t":170,"t2":300,"v":0.05},{"w":760,"w2":770,"t":170,"t2":300,"v":0.05},{"w":770,"w2":780,"t":170,"t2":300,"v":0.05},

{"w":450,"w2":460,"t":300,"t2":600,"v":0.04},{"w":460,"w2":470,"t":300,"t2":600,"v":0.04},{"w":470,"w2":480,"t":300,"t2":600,"v":0.04},{"w":480,"w2":490,"t":300,"t2":600,"v":0.04},{"w":490,"w2":500,"t":300,"t2":600,"v":0.04},{"w":500,"w2":510,"t":300,"t2":600,"v":0.05},{"w":510,"w2":520,"t":300,"t2":600,"v":0.05},{"w":520,"w2":530,"t":300,"t2":600,"v":0.06},{"w":530,"w2":540,"t":300,"t2":600,"v":0.08},{"w":540,"w2":550,"t":300,"t2":600,"v":0.1},
{"w":550,"w2":555,"t":300,"t2":600,"v":0.13},{"w":555,"w2":560,"t":300,"t2":600,"v":0.14},{"w":560,"w2":565,"t":300,"t2":600,"v":0.15},{"w":565,"w2":570,"t":300,"t2":600,"v":0.17},{"w":570,"w2":575,"t":300,"t2":600,"v":0.18},{"w":575,"w2":580,"t":300,"t2":600,"v":0.2},{"w":580,"w2":585,"t":300,"t2":600,"v":0.22},{"w":585,"w2":590,"t":300,"t2":600,"v":0.23},{"w":590,"w2":595,"t":300,"t2":600,"v":0.25},{"w":595,"w2":600,"t":300,"t2":600,"v":0.26},{"w":600,"w2":605,"t":300,"t2":600,"v":0.28},{"w":605,"w2":610,"t":300,"t2":600,"v":0.3},{"w":610,"w2":615,"t":300,"t2":600,"v":0.32},{"w":615,"w2":620,"t":300,"t2":600,"v":0.34},{"w":620,"w2":625,"t":300,"t2":600,"v":0.37},{"w":625,"w2":630,"t":300,"t2":600,"v":0.4},{"w":630,"w2":635,"t":300,"t2":600,"v":0.43},{"w":635,"w2":640,"t":300,"t2":600,"v":0.46},{"w":640,"w2":645,"t":300,"t2":600,"v":0.48},{"w":645,"w2":650,"t":300,"t2":600,"v":0.48},{"w":650,"w2":655,"t":300,"t2":600,"v":0.46},{"w":655,"w2":660,"t":300,"t2":600,"v":0.42},{"w":660,"w2":665,"t":300,"t2":600,"v":0.38},{"w":665,"w2":670,"t":300,"t2":600,"v":0.33},{"w":670,"w2":675,"t":300,"t2":600,"v":0.29},{"w":675,"w2":680,"t":300,"t2":600,"v":0.24},{"w":680,"w2":685,"t":300,"t2":600,"v":0.18},{"w":685,"w2":690,"t":300,"t2":600,"v":0.14},
{"w":690,"w2":700,"t":300,"t2":600,"v":0.1},{"w":700,"w2":710,"t":300,"t2":600,"v":0.07},{"w":710,"w2":720,"t":300,"t2":600,"v":0.05},{"w":720,"w2":730,"t":300,"t2":600,"v":0.05},{"w":730,"w2":740,"t":300,"t2":600,"v":0.05},{"w":740,"w2":750,"t":300,"t2":600,"v":0.05},{"w":750,"w2":760,"t":300,"t2":600,"v":0.05},{"w":760,"w2":770,"t":300,"t2":600,"v":0.05},{"w":770,"w2":780,"t":300,"t2":600,"v":0.05},

{"w":450,"w2":460,"t":600,"t2":1300,"v":0.04},{"w":460,"w2":470,"t":600,"t2":1300,"v":0.04},{"w":470,"w2":480,"t":600,"t2":1300,"v":0.04},{"w":480,"w2":490,"t":600,"t2":1300,"v":0.04},{"w":490,"w2":500,"t":600,"t2":1300,"v":0.04},{"w":500,"w2":510,"t":600,"t2":1300,"v":0.04},{"w":510,"w2":520,"t":600,"t2":1300,"v":0.05},{"w":520,"w2":530,"t":600,"t2":1300,"v":0.06},{"w":530,"w2":540,"t":600,"t2":1300,"v":0.07},{"w":540,"w2":550,"t":600,"t2":1300,"v":0.09},
{"w":550,"w2":555,"t":600,"t2":1300,"v":0.1},{"w":555,"w2":560,"t":600,"t2":1300,"v":0.11},{"w":560,"w2":565,"t":600,"t2":1300,"v":0.12},{"w":565,"w2":570,"t":600,"t2":1300,"v":0.13},{"w":570,"w2":575,"t":600,"t2":1300,"v":0.14},{"w":575,"w2":580,"t":600,"t2":1300,"v":0.15},{"w":580,"w2":585,"t":600,"t2":1300,"v":0.16},{"w":585,"w2":590,"t":600,"t2":1300,"v":0.17},{"w":590,"w2":595,"t":600,"t2":1300,"v":0.18},{"w":595,"w2":600,"t":600,"t2":1300,"v":0.19},{"w":600,"w2":605,"t":600,"t2":1300,"v":0.2},{"w":605,"w2":610,"t":600,"t2":1300,"v":0.21},{"w":610,"w2":615,"t":600,"t2":1300,"v":0.22},{"w":615,"w2":620,"t":600,"t2":1300,"v":0.23},{"w":620,"w2":625,"t":600,"t2":1300,"v":0.25},{"w":625,"w2":630,"t":600,"t2":1300,"v":0.28},{"w":630,"w2":635,"t":600,"t2":1300,"v":0.32},{"w":635,"w2":640,"t":600,"t2":1300,"v":0.36},{"w":640,"w2":645,"t":600,"t2":1300,"v":0.4},{"w":645,"w2":650,"t":600,"t2":1300,"v":0.4},{"w":650,"w2":655,"t":600,"t2":1300,"v":0.36},{"w":655,"w2":660,"t":600,"t2":1300,"v":0.31},{"w":660,"w2":665,"t":600,"t2":1300,"v":0.27},{"w":665,"w2":670,"t":600,"t2":1300,"v":0.23},{"w":670,"w2":675,"t":600,"t2":1300,"v":0.2},{"w":675,"w2":680,"t":600,"t2":1300,"v":0.17},{"w":680,"w2":685,"t":600,"t2":1300,"v":0.14},{"w":685,"w2":690,"t":600,"t2":1300,"v":0.12},
{"w":690,"w2":700,"t":600,"t2":1300,"v":0.09},{"w":700,"w2":710,"t":600,"t2":1300,"v":0.06},{"w":710,"w2":720,"t":600,"t2":1300,"v":0.05},{"w":720,"w2":730,"t":600,"t2":1300,"v":0.05},{"w":730,"w2":740,"t":600,"t2":1300,"v":0.05},{"w":740,"w2":750,"t":600,"t2":1300,"v":0.05},{"w":750,"w2":760,"t":600,"t2":1300,"v":0.05},{"w":760,"w2":770,"t":600,"t2":1300,"v":0.05},{"w":770,"w2":780,"t":600,"t2":1300,"v":0.05},

{"w":450,"w2":460,"t":1300,"t2":5000,"v":0.04},{"w":460,"w2":470,"t":1300,"t2":5000,"v":0.04},{"w":470,"w2":480,"t":1300,"t2":5000,"v":0.04},{"w":480,"w2":490,"t":1300,"t2":5000,"v":0.04},{"w":490,"w2":500,"t":1300,"t2":5000,"v":0.04},{"w":500,"w2":510,"t":1300,"t2":5000,"v":0.04},{"w":510,"w2":520,"t":1300,"t2":5000,"v":0.05},{"w":520,"w2":530,"t":1300,"t2":5000,"v":0.05},{"w":530,"w2":540,"t":1300,"t2":5000,"v":0.06},{"w":540,"w2":550,"t":1300,"t2":5000,"v":0.08},
{"w":550,"w2":555,"t":1300,"t2":5000,"v":0.09},{"w":555,"w2":560,"t":1300,"t2":5000,"v":0.09},{"w":560,"w2":565,"t":1300,"t2":5000,"v":0.1},{"w":565,"w2":570,"t":1300,"t2":5000,"v":0.1},{"w":570,"w2":575,"t":1300,"t2":5000,"v":0.11},{"w":575,"w2":580,"t":1300,"t2":5000,"v":0.11},{"w":580,"w2":585,"t":1300,"t2":5000,"v":0.12},{"w":585,"w2":590,"t":1300,"t2":5000,"v":0.12},{"w":590,"w2":595,"t":1300,"t2":5000,"v":0.12},{"w":595,"w2":600,"t":1300,"t2":5000,"v":0.13},{"w":600,"w2":605,"t":1300,"t2":5000,"v":0.13},{"w":605,"w2":610,"t":1300,"t2":5000,"v":0.14},{"w":610,"w2":615,"t":1300,"t2":5000,"v":0.14},{"w":615,"w2":620,"t":1300,"t2":5000,"v":0.15},{"w":620,"w2":625,"t":1300,"t2":5000,"v":0.16},{"w":625,"w2":630,"t":1300,"t2":5000,"v":0.18},{"w":630,"w2":635,"t":1300,"t2":5000,"v":0.21},{"w":635,"w2":640,"t":1300,"t2":5000,"v":0.25},{"w":640,"w2":645,"t":1300,"t2":5000,"v":0.28},{"w":645,"w2":650,"t":1300,"t2":5000,"v":0.28},{"w":650,"w2":655,"t":1300,"t2":5000,"v":0.24},{"w":655,"w2":660,"t":1300,"t2":5000,"v":0.2},{"w":660,"w2":665,"t":1300,"t2":5000,"v":0.17},{"w":665,"w2":670,"t":1300,"t2":5000,"v":0.15},{"w":670,"w2":675,"t":1300,"t2":5000,"v":0.13},{"w":675,"w2":680,"t":1300,"t2":5000,"v":0.12},{"w":680,"w2":685,"t":1300,"t2":5000,"v":0.11},{"w":685,"w2":690,"t":1300,"t2":5000,"v":0.1},
{"w":690,"w2":700,"t":1300,"t2":5000,"v":0.08},{"w":700,"w2":710,"t":1300,"t2":5000,"v":0.06},{"w":710,"w2":720,"t":1300,"t2":5000,"v":0.05},{"w":720,"w2":730,"t":1300,"t2":5000,"v":0.05},{"w":730,"w2":740,"t":1300,"t2":5000,"v":0.05},{"w":740,"w2":750,"t":1300,"t2":5000,"v":0.05},{"w":750,"w2":760,"t":1300,"t2":5000,"v":0.05},{"w":760,"w2":770,"t":1300,"t2":5000,"v":0.05},{"w":770,"w2":780,"t":1300,"t2":5000,"v":0.05}
]
},
"hconcat":[
{
 "title":{"text":"(a)\u00a0PBDB-T @ 800 nm"},
 "bounds":"flush",
 "spacing":5,
 "resolve":{"scale":{"x":"independent","y":"independent","color":"shared"}},
 "vconcat":[
  {"width":335,"height":144,"data":{"name":"aTop"},
   "resolve":{"axis":{"y":"independent"}},
   "layer":[
    {"mark":{"type":"rect","strokeWidth":0.8},
     "encoding":{
      "x":{"field":"w","type":"quantitative","scale":{"domain":[450,780],"nice":false,"zero":false},"axis":{"orient":"top","labels":false,"ticks":false,"title":null}},
      "x2":{"field":"w2"},
      "y":{"field":"t","type":"quantitative","scale":{"type":"log","domain":[5,5000],"nice":false},"axis":{"values":[10,50,100,500,1000],"format":"d","labelExpr":"datum.value==50||datum.value==500 ? '' : datum.label","tickSize":{"condition":{"test":"datum.value==50||datum.value==500","value":4},"value":8},"labelPadding":3,"title":null}},
      "y2":{"field":"t2"},
      "color":{"field":"v","type":"quantitative","scale":{"domain":[-2.15,-1.6,-1.1,-0.8,-0.45,0.1,0.55,0.95,1.3,1.7,2.0,2.3],"range":["#0000ff","#0050ff","#00e8ff","#00ff90","#00f020","#00f000","#90ff00","#ffff00","#ffb000","#ff3000","#ff0000","#ff0000"],"clamp":true,"interpolate":"rgb"},"legend":{"type":"gradient","direction":"vertical","title":"ΔT/T (10⁻³)","values":[-2,0,2],"labelExpr":"datum.value < 0 ? '-' + (-datum.value) : datum.label","titleOrient":"right","titleBaseline":"top","titleAnchor":"middle","titlePadding":12,"labelFlush":false,"labelOverlap":false,"encode":{"title":{"update":{"angle":{"value":270}}}}}},
      "stroke":{"field":"v","type":"quantitative","scale":{"domain":[-2.16,-1.6,-1.1,-0.8,-0.45,0.1,0.55,0.95,1.3,1.7,2.0,2.31],"range":["#0000ff","#0050ff","#00e8ff","#00ff90","#00f020","#00f000","#90ff00","#ffff00","#ffb000","#ff3000","#ff0000","#ff0000"],"clamp":true,"interpolate":"rgb"},"legend":null}
     }},
    {"mark":{"type":"rect","opacity":0},
     "encoding":{
      "x":{"field":"w","type":"quantitative","axis":{"orient":"top","labels":false,"ticks":false,"title":null}},
      "x2":{"field":"w2"},
      "y":{"field":"t","type":"quantitative","axis":{"orient":"right","labels":false,"ticks":false,"title":null}},
      "y2":{"field":"t2"}
     }}
   ]},
  {"width":335,"height":142,"data":{"name":"aBot"},
   "resolve":{"axis":{"y":"independent"}},
   "layer":[
    {"mark":{"type":"rect","strokeWidth":0.8},
     "encoding":{
      "x":{"field":"w","type":"quantitative","scale":{"domain":[450,780],"nice":false,"zero":false},"axis":{"values":[450,500,550,600,650,700,750],"labelExpr":"datum.value % 100 == 0 ? datum.label : ''","tickSize":{"condition":{"test":"datum.value % 100 != 0","value":4},"value":8},"labelPadding":11,"title":"Wavelength (nm)","titlePadding":5}},
      "x2":{"field":"w2"},
      "y":{"field":"t","type":"quantitative","scale":{"domain":[0,5],"nice":false,"zero":false},"axis":{"values":[0,1,2,3,4],"labelExpr":"datum.value % 2 == 0 ? datum.label : ''","tickSize":{"condition":{"test":"datum.value % 2 == 1","value":4},"value":8},"labelPadding":3,"title":"Time delay (ps)","titleX":-51,"titleY":11,"titleAngle":270,"titleAlign":"center","titleBaseline":"bottom"}},
      "y2":{"field":"t2"},
      "color":{"field":"v","type":"quantitative","scale":{"domain":[-2.15,-1.6,-1.1,-0.8,-0.45,0.1,0.55,0.95,1.3,1.7,2.0,2.3],"range":["#0000ff","#0050ff","#00e8ff","#00ff90","#00f020","#00f000","#90ff00","#ffff00","#ffb000","#ff3000","#ff0000","#ff0000"],"clamp":true,"interpolate":"rgb"},"legend":{"type":"gradient","direction":"vertical","title":"ΔT/T (10⁻³)","values":[-2,0,2],"labelExpr":"datum.value < 0 ? '-' + (-datum.value) : datum.label","titleOrient":"right","titleBaseline":"top","titleAnchor":"middle","titlePadding":12,"labelFlush":false,"labelOverlap":false,"encode":{"title":{"update":{"angle":{"value":270}}}}}},
      "stroke":{"field":"v","type":"quantitative","scale":{"domain":[-2.16,-1.6,-1.1,-0.8,-0.45,0.1,0.55,0.95,1.3,1.7,2.0,2.31],"range":["#0000ff","#0050ff","#00e8ff","#00ff90","#00f020","#00f000","#90ff00","#ffff00","#ffb000","#ff3000","#ff0000","#ff0000"],"clamp":true,"interpolate":"rgb"},"legend":null}
     }},
    {"mark":{"type":"rect","opacity":0},
     "encoding":{
      "x":{"field":"w","type":"quantitative","axis":{"values":[450,500,550,600,650,700,750],"labelExpr":"datum.value % 100 == 0 ? datum.label : ''","tickSize":{"condition":{"test":"datum.value % 100 != 0","value":4},"value":8},"labelPadding":11,"title":"Wavelength (nm)","titlePadding":5}},
      "x2":{"field":"w2"},
      "y":{"field":"t","type":"quantitative","axis":{"orient":"right","labels":false,"ticks":false,"title":null}},
      "y2":{"field":"t2"}
     }}
   ]}
 ]
},
{
 "title":{"text":"(b)\u00a0PBDB-T @ 550 nm"},
 "bounds":"flush",
 "spacing":5,
 "resolve":{"scale":{"x":"independent","y":"independent","color":"shared"}},
 "vconcat":[
  {"width":331,"height":144,"data":{"name":"bTop"},
   "resolve":{"axis":{"y":"independent"}},
   "layer":[
    {"mark":{"type":"rect","strokeWidth":0.8},
     "encoding":{
      "x":{"field":"w","type":"quantitative","scale":{"domain":[450,780],"nice":false,"zero":false},"axis":{"orient":"top","labels":false,"ticks":false,"title":null}},
      "x2":{"field":"w2"},
      "y":{"field":"t","type":"quantitative","scale":{"type":"log","domain":[5,5000],"nice":false},"axis":{"values":[10,50,100,500,1000],"format":"d","labelExpr":"datum.value==50||datum.value==500 ? '' : datum.label","tickSize":{"condition":{"test":"datum.value==50||datum.value==500","value":4},"value":8},"labelPadding":3,"title":null}},
      "y2":{"field":"t2"},
      "color":{"field":"v","type":"quantitative","scale":{"domain":[-2.15,-1.6,-1.1,-0.8,-0.45,0.1,0.55,0.95,1.3,1.7,2.0,2.3],"range":["#0000ff","#0050ff","#00e8ff","#00ff90","#00f020","#00f000","#90ff00","#ffff00","#ffb000","#ff3000","#ff0000","#ff0000"],"clamp":true,"interpolate":"rgb"},"legend":{"type":"gradient","direction":"vertical","title":"ΔT/T (10⁻³)","values":[-2,0,2],"labelExpr":"datum.value < 0 ? '-' + (-datum.value) : datum.label","titleOrient":"right","titleBaseline":"top","titleAnchor":"middle","titlePadding":12,"labelFlush":false,"labelOverlap":false,"encode":{"title":{"update":{"angle":{"value":270}}}}}},
      "stroke":{"field":"v","type":"quantitative","scale":{"domain":[-2.16,-1.6,-1.1,-0.8,-0.45,0.1,0.55,0.95,1.3,1.7,2.0,2.31],"range":["#0000ff","#0050ff","#00e8ff","#00ff90","#00f020","#00f000","#90ff00","#ffff00","#ffb000","#ff3000","#ff0000","#ff0000"],"clamp":true,"interpolate":"rgb"},"legend":null}
     }},
    {"mark":{"type":"rect","opacity":0},
     "encoding":{
      "x":{"field":"w","type":"quantitative","axis":{"orient":"top","labels":false,"ticks":false,"title":null}},
      "x2":{"field":"w2"},
      "y":{"field":"t","type":"quantitative","axis":{"orient":"right","labels":false,"ticks":false,"title":null}},
      "y2":{"field":"t2"}
     }}
   ]},
  {"width":331,"height":142,"data":{"name":"bBot"},
   "resolve":{"axis":{"y":"independent"}},
   "layer":[
    {"mark":{"type":"rect","strokeWidth":0.8},
     "encoding":{
      "x":{"field":"w","type":"quantitative","scale":{"domain":[450,780],"nice":false,"zero":false},"axis":{"values":[450,500,550,600,650,700,750],"labelExpr":"datum.value % 100 == 0 ? datum.label : ''","tickSize":{"condition":{"test":"datum.value % 100 != 0","value":4},"value":8},"labelPadding":11,"title":"Wavelength (nm)","titlePadding":5}},
      "x2":{"field":"w2"},
      "y":{"field":"t","type":"quantitative","scale":{"domain":[0,5],"nice":false,"zero":false},"axis":{"values":[0,1,2,3,4],"labelExpr":"datum.value % 2 == 0 ? datum.label : ''","tickSize":{"condition":{"test":"datum.value % 2 == 1","value":4},"value":8},"labelPadding":3,"title":"Time delay (ps)","titleX":-51,"titleY":11,"titleAngle":270,"titleAlign":"center","titleBaseline":"bottom"}},
      "y2":{"field":"t2"},
      "color":{"field":"v","type":"quantitative","scale":{"domain":[-2.15,-1.6,-1.1,-0.8,-0.45,0.1,0.55,0.95,1.3,1.7,2.0,2.3],"range":["#0000ff","#0050ff","#00e8ff","#00ff90","#00f020","#00f000","#90ff00","#ffff00","#ffb000","#ff3000","#ff0000","#ff0000"],"clamp":true,"interpolate":"rgb"},"legend":{"type":"gradient","direction":"vertical","title":"ΔT/T (10⁻³)","values":[-2,0,2],"labelExpr":"datum.value < 0 ? '-' + (-datum.value) : datum.label","titleOrient":"right","titleBaseline":"top","titleAnchor":"middle","titlePadding":12,"labelFlush":false,"labelOverlap":false,"encode":{"title":{"update":{"angle":{"value":270}}}}}},
      "stroke":{"field":"v","type":"quantitative","scale":{"domain":[-2.16,-1.6,-1.1,-0.8,-0.45,0.1,0.55,0.95,1.3,1.7,2.0,2.31],"range":["#0000ff","#0050ff","#00e8ff","#00ff90","#00f020","#00f000","#90ff00","#ffff00","#ffb000","#ff3000","#ff0000","#ff0000"],"clamp":true,"interpolate":"rgb"},"legend":null}
     }},
    {"mark":{"type":"rect","opacity":0},
     "encoding":{
      "x":{"field":"w","type":"quantitative","axis":{"values":[450,500,550,600,650,700,750],"labelExpr":"datum.value % 100 == 0 ? datum.label : ''","tickSize":{"condition":{"test":"datum.value % 100 != 0","value":4},"value":8},"labelPadding":11,"title":"Wavelength (nm)","titlePadding":5}},
      "x2":{"field":"w2"},
      "y":{"field":"t","type":"quantitative","axis":{"orient":"right","labels":false,"ticks":false,"title":null}},
      "y2":{"field":"t2"}
     }}
   ]}
 ]
}
],
"spacing":30,
"resolve":{"scale":{"color":"independent","stroke":"independent","x":"independent","y":"independent"}}
}
